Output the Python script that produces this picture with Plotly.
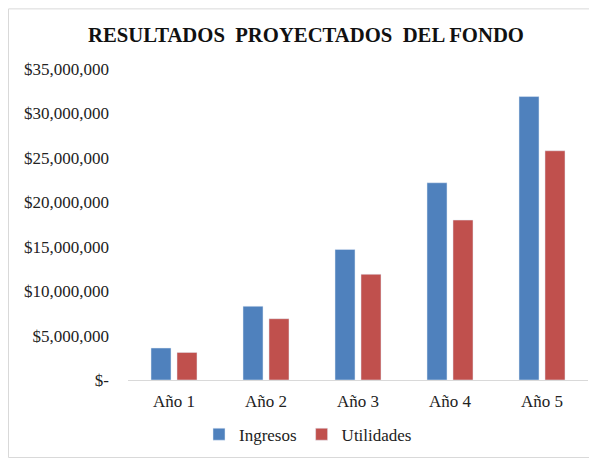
import plotly.graph_objects as go

categories = ["Año 1", "Año 2", "Año 3", "Año 4", "Año 5"]
ingresos = [3_600_000, 8_300_000, 14_700_000, 22_200_000, 31_900_000]
utilidades = [3_100_000, 6_900_000, 11_900_000, 18_000_000, 25_800_000]
tick_vals = [0, 5_000_000, 10_000_000, 15_000_000, 20_000_000, 25_000_000, 30_000_000, 35_000_000]
tick_text = ["$-", "$5,000,000", "$10,000,000", "$15,000,000", "$20,000,000",
             "$25,000,000", "$30,000,000", "$35,000,000"]

SERIF = "Liberation Serif"

fig = go.Figure()
fig.add_trace(go.Bar(name="Ingresos", x=categories, y=ingresos, marker_color="#4F81BD"))
fig.add_trace(go.Bar(name="Utilidades", x=categories, y=utilidades, marker_color="#C0504D"))

# page body has an 8px margin, so the figure is drawn 8px in from the top-left
W, H = 589, 454
L, R, T, B = 120, 9, 61, 80
pw, ph = W - L - R, H - T - B

fig.update_layout(
    width=W, height=H,
    margin=dict(l=L, r=R, t=T, b=B),
    paper_bgcolor="white", plot_bgcolor="white",
    barmode="group", bargap=0.435, bargroupgap=0.23,
    font=dict(family=SERIF, size=17, color="#222222"),
    title=dict(text="<b>RESULTADOS  PROYECTADOS  DEL FONDO</b>",
               font=dict(family=SERIF, size=20.7, color="#111111"),
               x=298 / W, xanchor="center", y=1 - 27 / H, yanchor="middle",
               xref="container", yref="container"),
    showlegend=True,
    legend=dict(orientation="h", x=(300 - L) / pw, xanchor="center",
                y=-55 / ph, yanchor="middle",
                font=dict(family=SERIF, size=17, color="#222222"),
                itemwidth=30, tracegroupgap=0),
    xaxis=dict(showgrid=False, showline=True, linecolor="#D9D9D9", linewidth=1,
               ticks="", ticklabelstandoff=6, zeroline=False,
               tickfont=dict(family=SERIF, size=17, color="#222222")),
    yaxis=dict(range=[0, 35_000_000], tickvals=tick_vals, ticktext=tick_text,
               showgrid=False, showline=False, zeroline=False, ticks="",
               ticklabelstandoff=18,
               tickfont=dict(family=SERIF, size=17, color="#222222")),
    shapes=[dict(type="rect", xref="paper", yref="paper",
                 x0=-(L - 0.5) / pw, x1=(pw + R + 40) / pw,
                 y0=-(B - 2) / ph, y1=1 + (T - 0.5) / ph,
                 line=dict(color="#D9D9D9", width=1), fillcolor="rgba(0,0,0,0)",
                 layer="below")],
)

fig.write_html("out.html")
